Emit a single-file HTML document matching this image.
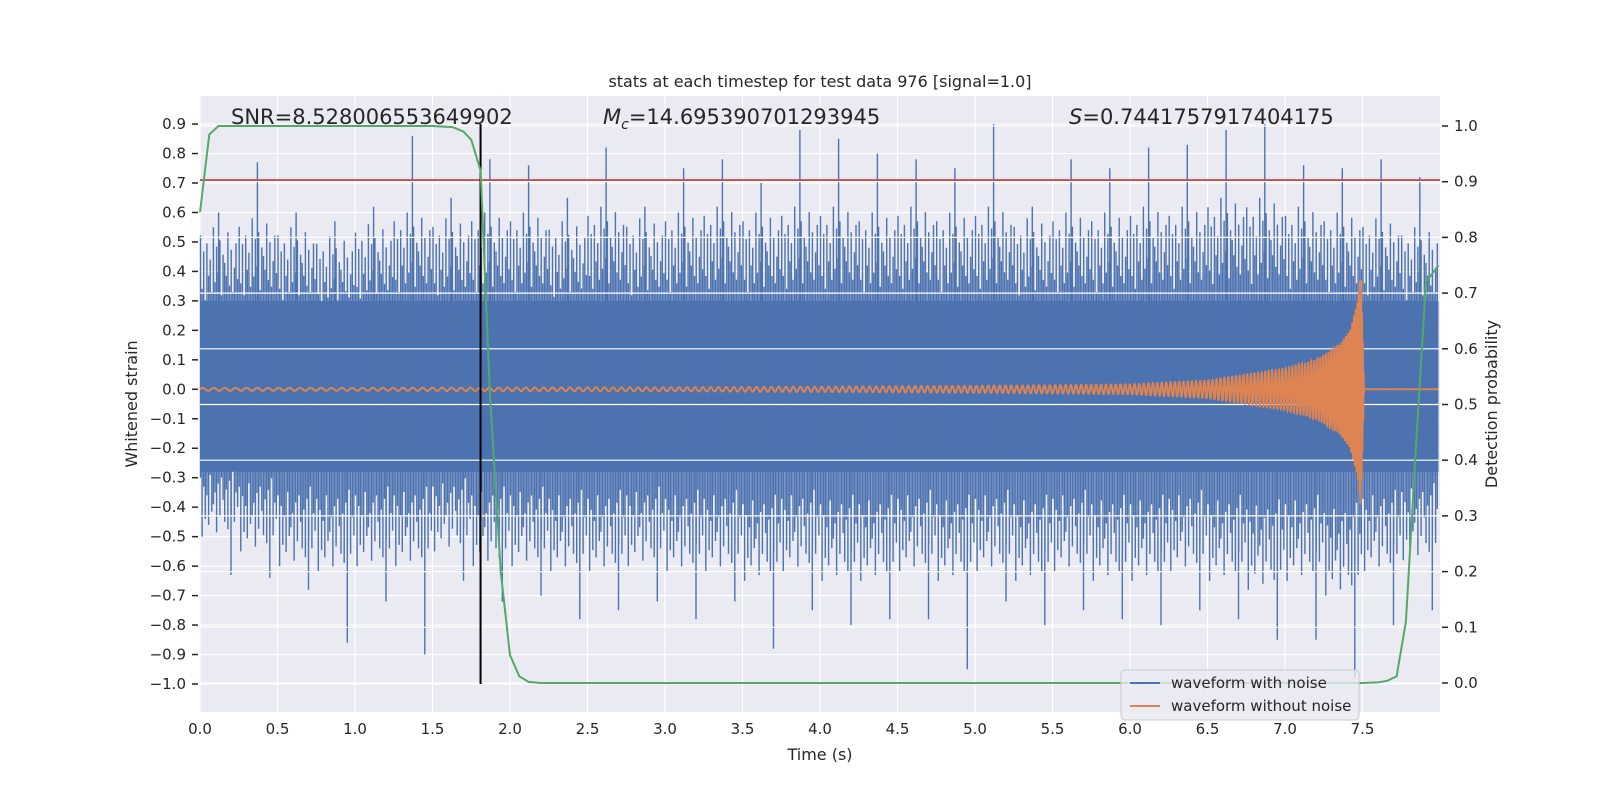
<!DOCTYPE html>
<html><head><meta charset="utf-8"><style>
html,body{margin:0;padding:0;background:#fff;width:1600px;height:800px;overflow:hidden}
svg text{font-family:"DejaVu Sans","Liberation Sans",sans-serif;fill:#262626}
</style></head><body>
<svg id="chart" width="1600" height="800" xmlns="http://www.w3.org/2000/svg">
<rect x="200" y="96" width="1240" height="616" fill="#eaeaf2"/>
<g id="grid"></g>
<g id="noise"></g>
<g id="grid2"></g>
<g id="clean"></g>
<g id="marks"></g>
<g id="axes"></g>
<text x="820" y="87" font-size="16" text-anchor="middle">stats at each timestep for test data 976 [signal=1.0]</text>
<text x="820" y="760" font-size="16" text-anchor="middle">Time (s)</text>
<text x="0" y="0" font-size="16" text-anchor="middle" transform="translate(137,404) rotate(-90)">Whitened strain</text>
<text x="0" y="0" font-size="16" text-anchor="middle" transform="translate(1497,404) rotate(-90)">Detection probability</text>
<text x="231" y="124" font-size="21">SNR=8.528006553649902</text>
<text x="603" y="124" font-size="21"><tspan font-style="italic">M</tspan><tspan font-style="italic" font-size="14" dy="5">c</tspan><tspan dy="-5">=14.695390701293945</tspan></text>
<text x="1069" y="124" font-size="21"><tspan font-style="italic">S</tspan>=0.7441757917404175</text>
<g>
<rect x="1121" y="670" width="238" height="50" rx="4" fill="#eaeaf2" fill-opacity="0.8" stroke="#cccccc"/>
<line x1="1130" y1="683" x2="1160" y2="683" stroke="#4c72b0" stroke-width="2"/>
<text x="1171" y="688" font-size="15">waveform with noise</text>
<line x1="1130" y1="706" x2="1160" y2="706" stroke="#dd8452" stroke-width="2"/>
<text x="1171" y="711" font-size="15">waveform without noise</text>
</g>
</svg>
<script>
// ---- data ----
const xTicks=[0,0.5,1,1.5,2,2.5,3,3.5,4,4.5,5,5.5,6,6.5,7,7.5];
const yTicks=[-1.0,-0.9,-0.8,-0.7,-0.6,-0.5,-0.4,-0.3,-0.2,-0.1,0.0,0.1,0.2,0.3,0.4,0.5,0.6,0.7,0.8,0.9];
const pTicks=[0,0.1,0.2,0.3,0.4,0.5,0.6,0.7,0.8,0.9,1.0];
const binStart=[0,0.25,0.5,0.75,1,1.25,1.5,1.75,2,2.25,2.5,2.75,3,3.25,3.5,3.75,4,4.25,4.5,4.75,5,5.25,5.5,5.75,6,6.25,6.5,6.75,7,7.25,7.5,7.75];
const spikeHi=[0.6,0.77,0.6,0.57,0.62,0.86,0.65,0.78,0.76,0.65,0.82,0.62,0.75,0.78,0.7,0.88,0.85,0.8,0.78,0.75,0.9,0.62,0.78,0.75,0.82,0.83,0.88,0.9,0.76,0.75,0.78,0.72];
const spikeLo=[-0.63,-0.64,-0.68,-0.86,-0.72,-0.9,-0.65,-0.72,-0.7,-0.78,-0.75,-0.72,-0.78,-0.72,-0.88,-0.75,-0.8,-0.78,-0.78,-0.95,-0.72,-0.8,-0.75,-0.78,-0.8,-0.75,-0.78,-0.85,-0.85,-0.98,-0.8,-0.75];
const typHi=[0.55,0.58,0.55,0.52,0.56,0.6,0.58,0.6,0.6,0.57,0.62,0.58,0.6,0.62,0.6,0.62,0.62,0.6,0.62,0.6,0.62,0.58,0.6,0.6,0.62,0.62,0.65,0.65,0.62,0.6,0.58,0.55];
const typLo=[-0.5,-0.55,-0.6,-0.62,-0.6,-0.6,-0.55,-0.6,-0.6,-0.62,-0.62,-0.6,-0.62,-0.62,-0.65,-0.62,-0.65,-0.65,-0.62,-0.65,-0.62,-0.65,-0.62,-0.65,-0.65,-0.62,-0.65,-0.68,-0.65,-0.7,-0.62,-0.58];
const cleanT=[0,1,2,3,4,5,5.5,6,6.5,7,7.2,7.35,7.42,7.47,7.49,7.5,7.51,8];
const cleanAmp=[0.005,0.005,0.006,0.007,0.009,0.012,0.014,0.017,0.03,0.07,0.1,0.15,0.2,0.3,0.4,0.2,0,0];
const cleanFreq=[14,15,17,19,22,26,29,33,38,46,52,62,75,100,150,200,200,200];
const probT=[0,0.06,0.12,0.5,1.0,1.5,1.63,1.7,1.75,1.81,1.87,1.94,2.0,2.06,2.12,2.2,3,4,5,6,7,7.5,7.6,7.66,7.72,7.78,7.85,7.91,7.99];
const probV=[0.845,0.985,1.0,1.0,1.0,1.0,0.998,0.99,0.975,0.92,0.52,0.2,0.05,0.012,0.002,0,0,0,0,0,0,0,0.001,0.004,0.012,0.11,0.45,0.72,0.75];
const thresholdV=0.71;
const markerT=1.81;
// ---- scales ----
const X=t=>200+t*155;
const Y=v=>684-(v+1)*294.7;
const P=p=>683-p*557;
const NS="http://www.w3.org/2000/svg";
function mk(tag,parent,attrs){const e=document.createElementNS(NS,tag);for(const k in attrs)e.setAttribute(k,attrs[k]);parent.appendChild(e);return e;}
const grid=document.getElementById('grid'),grid2=document.getElementById('grid2'),axes=document.getElementById('axes');
xTicks.forEach(t=>{
 const l=mk('line',grid,{x1:X(t),x2:X(t),y1:96,y2:712,stroke:'#fff','stroke-width':1.2});
 
 
 const tx=mk('text',axes,{x:X(t),y:734,'font-size':15,'text-anchor':'middle'});tx.textContent=t.toFixed(1);
 
 
});
yTicks.forEach(v=>{
 const l=mk('line',grid,{x1:200,x2:1440,y1:Y(v),y2:Y(v),stroke:'#fff','stroke-width':1.2});
 
 
 mk('line',axes,{x1:192,x2:198,y1:Y(v),y2:Y(v),stroke:'#262626','stroke-width':1.5});
 const tx=mk('text',axes,{x:186,y:Y(v)+5,'font-size':15,'text-anchor':'end'});tx.textContent=(v<0?'\u2212':'')+Math.abs(v).toFixed(1);
 
 
});
pTicks.forEach(p=>{
 const l=mk('line',grid2,{x1:200,x2:1440,y1:P(p),y2:P(p),stroke:'#fff','stroke-width':1.2});
 
 
 mk('line',axes,{x1:1442,x2:1448,y1:P(p),y2:P(p),stroke:'#262626','stroke-width':1.5});
 const tx=mk('text',axes,{x:1454,y:P(p)+5,'font-size':15});tx.textContent=p.toFixed(1);
 
 
});
// noise
const noise=document.getElementById('noise');
const core=mk('rect',noise,{x:X(0),y:Y(0.3),width:X(7.99)-X(0),height:Y(-0.28)-Y(0.3),fill:'#4c72b0'});


const pat=[0.95,0.62,0.85,0.55,0.9,0.7,0.8,0.6,1,0.66,0.88,0.72,0.92,0.58,0.83,0.78,0.7,0.97,0.64,0.86,0.6,0.75,0.9,0.68];
let d='';
binStart.forEach((b,i)=>{
 const n=pat.length,w=0.25/n;
 for(let k=0;k<n;k++){const t=b+w*(k+0.3);if(t>7.99)continue;
  const hi=typHi[i]*pat[k],lo=typLo[i]*pat[(k+7)%n];
  d+=`M${X(t).toFixed(1)},${Y(hi).toFixed(1)}V${Y(lo).toFixed(1)}`;}
 const ts=b+0.12;
 d+=`M${X(ts).toFixed(1)},${Y(spikeHi[i]).toFixed(1)}V${Y(0).toFixed(1)}`;
 d+=`M${X(b+0.2).toFixed(1)},${Y(0).toFixed(1)}V${Y(spikeLo[i]).toFixed(1)}`;
});
const np=mk('path',noise,{d:d,stroke:'#4c72b0','stroke-width':1.4,fill:'none'});


// clean chirp
function interp(ts,vs,t){for(let i=1;i<ts.length;i++){if(t<=ts[i]){const f=(t-ts[i-1])/(ts[i]-ts[i-1]);return vs[i-1]+f*(vs[i]-vs[i-1]);}}return vs[vs.length-1];}
let ph=0,cd='';const dt=0.0005;
for(let t=0;t<=7.99;t+=dt){const a=interp(cleanT,cleanAmp,t);ph+=2*Math.PI*interp(cleanT,cleanFreq,t)*dt;const v=a*Math.sin(ph);cd+=(t===0?'M':'L')+X(t).toFixed(2)+','+Y(v).toFixed(2);}
const cp=mk('path',document.getElementById('clean'),{d:cd,stroke:'#dd8452','stroke-width':2,fill:'none'});


// markers
const marks=document.getElementById('marks');
const rl=mk('line',marks,{x1:200,x2:1440,y1:Y(thresholdV),y2:Y(thresholdV),stroke:'#c44e52','stroke-width':1.8});


const bl=mk('line',marks,{x1:X(markerT),x2:X(markerT),y1:Y(0.9),y2:Y(-1.0),stroke:'#000','stroke-width':2});


const gp=mk('path',marks,{d:probT.map((t,i)=>(i?'L':'M')+X(t).toFixed(1)+','+P(probV[i]).toFixed(1)).join(''),stroke:'#55a868','stroke-width':2,fill:'none'});


</script>
</body></html>
